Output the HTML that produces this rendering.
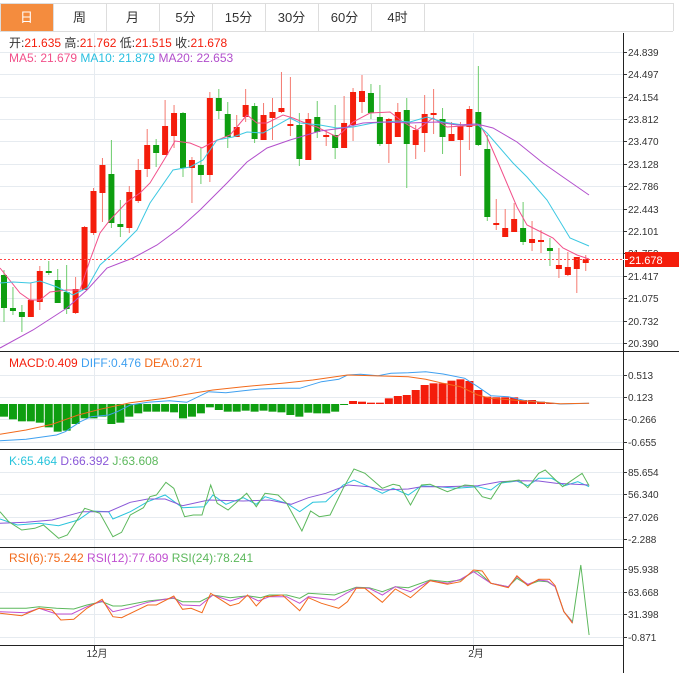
<!DOCTYPE html>
<html><head><meta charset="utf-8">
<style>
html,body{margin:0;padding:0;background:#fff;width:679px;height:673px;overflow:hidden;font-family:"Liberation Sans","Noto Sans CJK SC",sans-serif;}
svg{position:absolute;left:0;top:0}
</style></head><body>
<svg id="s" width="679" height="673" xmlns="http://www.w3.org/2000/svg" font-family="Liberation Sans, Noto Sans CJK SC, sans-serif"></svg>
<script>
var s=document.getElementById('s'),h='';
function L(x1,y1,x2,y2,c,w,extra){h+='<line x1="'+x1+'" y1="'+y1+'" x2="'+x2+'" y2="'+y2+'" stroke="'+c+'" stroke-width="'+(w||1)+'" '+(extra||'')+'/>';}
function R(x,y,w,hh,c){h+='<rect x="'+x+'" y="'+y+'" width="'+w+'" height="'+hh+'" fill="'+c+'"/>';}
function T(x,y,t,c,sz,anc){h+='<text x="'+x+'" y="'+y+'" fill="'+c+'" font-size="'+(sz||12)+'"'+(anc?' text-anchor="'+anc+'"':'')+'>'+t+'</text>';}
function P(pts,c,sx,y0,sy){var d=pts.map(function(p){return (p[0]*sx).toFixed(1)+','+(y0+p[1]*sy).toFixed(1)}).join(' ');h+='<polyline points="'+d+'" fill="none" stroke="'+c+'" stroke-width="1"/>';}
R(0,3,679,28,'#fff');
L(0,3.5,673,3.5,'#ddd');L(0,31.5,673,31.5,'#ddd');
var tabs=['日','周','月','5分','15分','30分','60分','4时'];
for(var i=0;i<8;i++){var x=i*53;if(i==0)R(0,4,53,27,'#f48c3e');L(x+53.5,4,x+53.5,31,'#ddd');T(x+26.5,22,tabs[i],i==0?'#fff':'#333',13,'middle');}
L(673.5,3,673.5,31,'#ddd');L(0.5,3,0.5,31,'#ddd');
var ty=[[52,'24.839'],[74,'24.497'],[97,'24.154'],[119,'23.812'],[141,'23.470'],[164,'23.128'],[186,'22.786'],[209,'22.443'],[231,'22.101'],[253,'21.759'],[276,'21.417'],[298,'21.075'],[321,'20.732'],[343,'20.390']];
ty.forEach(function(t){L(0,t[0]+.5,623,t[0]+.5,'#e6ebf0');L(623,t[0]+.5,627,t[0]+.5,'#333');T(628,t[0]+4,t[1],'#333',10);});
[94,473].forEach(function(x){L(x+.5,33,x+.5,645,'#e6ebf0');});
L(623.5,33,623.5,673,'#222');
[351,449,547,645].forEach(function(y){L(0,y+.5,623,y+.5,'#222');});
L(623,351.5,679,351.5,'#222');
var C=[[275,308,270,322,'g'],[308,311,287,315,'g'],[312,317,305,332,'g'],[300,317,283,317,'r'],[271,302,266,310,'r'],[271,273,261,275,'g'],[280,303,269,303,'g'],[292,309,265,314,'g'],[289,313,277,314,'r'],[227,290,226,290,'r'],[191,233,188,235,'r'],[165,193,158,222,'r'],[174,223,140,228,'g'],[224,227,200,237,'g'],[192,228,186,233,'r'],[170,201,159,203,'r'],[145,169,129,177,'r'],[145,153,139,167,'g'],[126,155,100,155,'r'],[113,136,105,148,'r'],[113,168,112,177,'g'],[160,168,157,203,'r'],[165,175,148,184,'g'],[98,175,92,182,'r'],[98,111,89,119,'g'],[114,137,102,148,'g'],[127,137,115,137,'r'],[105,117,89,122,'r'],[106,139,103,143,'g'],[115,140,103,140,'r'],[112,118,98,140,'r'],[108,112,72,113,'r'],[124,125,77,136,'r'],[125,159,113,166,'g'],[119,160,113,160,'r'],[117,132,101,138,'g'],[135,137,130,146,'r'],[135,148,105,159,'g'],[123,148,96,147,'r'],[92,125,88,141,'r'],[91,102,75,113,'r'],[93,113,84,119,'g'],[117,144,85,146,'g'],[119,144,118,163,'r'],[112,137,103,137,'r'],[110,144,98,188,'g'],[130,145,125,159,'r'],[114,133,95,152,'r'],[113,114,89,134,'r'],[119,137,108,154,'g'],[134,141,122,141,'r'],[126,140,122,176,'r'],[109,127,106,150,'r'],[112,145,66,146,'g'],[149,217,135,221,'g'],[223,225,199,230,'r'],[228,237,209,237,'r'],[219,232,203,232,'r'],[228,242,202,245,'g'],[239,243,221,251,'r'],[240,242,230,253,'r'],[248,251,238,266,'g'],[265,269,248,278,'r'],[267,275,252,276,'r'],[257,269,257,293,'r'],[259,263,255,271,'r']];
C.forEach(function(c,i){var x=4+i*8.95;var col=c[4]=='r'?'#f41d0b':'#0e9e10';var wc=c[4]=='r'?'#f47a70':'#6ccc6c';L(x,c[2],x,c[3],wc);R(x-3,c[0],6,Math.max(c[1]-c[0],2),col);});
var ma5=[[0,268],[20,293],[30,300],[40,300],[50,292],[67,290],[80,290],[90,260],[100,233],[110,220],[127,202],[140,193],[150,183],[167,155],[175,141],[190,143],[202,148],[213,142],[230,135],[247,115],[257,123],[267,123],[283,115],[293,118],[310,125],[317,127],[337,137],[353,122],[370,113],[390,112],[403,122],[417,130],[433,118],[447,127],[463,126],[480,125],[487,137],[500,167],[517,207],[527,225],[543,233],[553,238],[563,248],[577,255],[589,259]];
var ma10=[[0,283],[13,282],[30,283],[40,281],[57,287],[73,295],[87,288],[100,265],[117,250],[137,230],[150,203],[173,170],[190,167],[203,160],[217,140],[233,137],[247,132],[263,133],[290,118],[300,123],[320,125],[337,128],[353,127],[373,123],[397,121],[410,122],[427,117],[443,122],[463,125],[477,124],[487,133],[513,163],[527,177],[547,200],[570,238],[589,246]];
var ma20=[[0,348],[33,330],[67,308],[87,290],[107,268],[133,258],[157,245],[180,228],[200,210],[227,183],[247,162],[267,148],[290,140],[320,131],[343,128],[363,123],[383,122],[410,123],[437,122],[457,125],[477,124],[493,128],[517,142],[543,163],[563,177],[589,195]];
P(ma5,'#f2508a',1,0,1);P(ma10,'#3cc8e2',1,0,1);P(ma20,'#b24fcc',1,0,1);
L(0,259.5,623,259.5,'#f44',1,'stroke-dasharray="2,2"');
R(625,252,54,15,'#f41d0b');L(623,259.5,628,259.5,'#fff');T(629,264,'21.678','#fff',11);
h+='<text x="9" y="47" font-size="12"><tspan fill="#333">开:</tspan><tspan fill="#f41d0b">21.635 </tspan><tspan fill="#333"> 高:</tspan><tspan fill="#f41d0b">21.762 </tspan><tspan fill="#333"> 低:</tspan><tspan fill="#f41d0b">21.515 </tspan><tspan fill="#333"> 收:</tspan><tspan fill="#f41d0b">21.678</tspan></text>';
h+='<text x="9" y="62" font-size="12"><tspan fill="#f2508a">MA5: 21.679 </tspan><tspan fill="#29bfe0"> MA10: 21.879 </tspan><tspan fill="#b24fcc"> MA20: 22.653</tspan></text>';
var sx=1/2.302;
[[375,'0.513'],[397,'0.123'],[419,'-0.266'],[442,'-0.655']].forEach(function(t){L(0,t[0]+.5,623,t[0]+.5,'#e6ebf0');L(623,t[0]+.5,627,t[0]+.5,'#333');T(628,t[0]+4,t[1],'#333',10);});
var mb=[200,208,214,214,218,232,245,242,222,205,205,200,222,218,200,190,185,185,185,187,205,200,190,172,180,185,185,182,185,182,185,187,195,200,188,190,190,185,165,153,155,158,158,145,138,135,120,105,100,100,92,88,93,120,140,142,142,142,150,150,155,160];
var z=404;
mb.forEach(function(Y,i){var x=4+i*8.95;var y=350+Y/3;if(y>z)R(x-4,z,8,y-z,'#0e9e10');else R(x-4,y,8,z-y,'#f41d0b');});
P([[0,272],[60,268],[130,255],[150,245],[185,215],[210,200],[250,195],[270,185],[300,165],[340,157],[390,152],[430,157],[480,125],[520,128],[560,122],[600,117],[650,115],[690,115],[740,95],[780,88],[800,75],[830,73],[870,77],[900,70],[940,68],[980,65],[1020,72],[1070,85],[1100,110],[1130,137],[1170,140],[1210,152],[1250,157],[1290,162],[1356,160]],'#3fa0f0',sx,350,1/3);
P([[0,253],[60,240],[120,223],[180,195],[230,178],[300,158],[380,145],[430,133],[490,120],[560,110],[650,100],[720,90],[800,75],[880,78],[940,80],[980,88],[1020,100],[1060,110],[1100,135],[1130,145],[1180,150],[1230,155],[1290,161],[1356,160]],'#f26a1b',sx,350,1/3);
h+='<text x="9" y="367" font-size="12"><tspan fill="#f41d0b">MACD:0.409 </tspan><tspan fill="#3fa0f0"> DIFF:0.476 </tspan><tspan fill="#f26a1b"> DEA:0.271</tspan></text>';
[[472,'85.654'],[494,'56.340'],[517,'27.026'],[539,'-2.288']].forEach(function(t){L(0,t[0]+.5,623,t[0]+.5,'#e6ebf0');L(623,t[0]+.5,627,t[0]+.5,'#333');T(628,t[0]+4,t[1],'#333',10);});
P([[0,222],[40,240],[90,235],[135,242],[180,225],[210,198],[250,200],[260,222],[300,200],[340,170],[380,150],[420,188],[470,185],[490,150],[520,178],[560,158],[590,178],[610,155],[660,175],[690,200],[720,172],[750,170],[790,120],[815,105],[850,125],[880,145],[905,130],[940,150],[970,122],[1010,125],[1050,130],[1100,125],[1130,135],[1150,115],[1190,108],[1215,122],[1240,100],[1270,100],[1300,122],[1330,110],[1356,125]],'#29c4dc',sx,445,1/3);
P([[0,235],[60,232],[120,225],[190,200],[250,200],[300,172],[340,162],[380,162],[420,182],[480,165],[560,168],[620,165],[670,178],[710,158],[750,145],[800,120],[850,125],[880,135],[940,132],[970,125],[1020,125],[1100,122],[1150,110],[1200,107],[1240,108],[1280,115],[1356,120]],'#8a58d8',sx,445,1/3);
P([[0,200],[20,230],[50,255],[80,250],[100,240],[135,280],[155,270],[195,190],[230,205],[260,275],[280,262],[300,210],[330,188],[345,155],[360,150],[382,112],[400,130],[425,215],[445,210],[465,210],[485,120],[500,175],[525,195],[568,145],[590,185],[610,145],[640,150],[660,175],[695,258],[715,198],[735,215],[760,210],[790,130],[815,72],[840,85],[880,130],[905,118],[920,122],[945,180],[970,120],[990,118],[1030,140],[1070,120],[1090,122],[1110,155],[1130,162],[1155,112],[1195,105],[1215,128],[1240,85],[1255,75],[1295,125],[1340,85],[1356,122]],'#5cb85c',sx,445,1/3);
h+='<text x="9" y="465" font-size="12"><tspan fill="#29c4dc">K:65.464 </tspan><tspan fill="#8a58d8"> D:66.392 </tspan><tspan fill="#5cb85c"> J:63.608</tspan></text>';
[[569,'95.938'],[592,'63.668'],[614,'31.398'],[637,'-0.871']].forEach(function(t){L(0,t[0]+.5,623,t[0]+.5,'#e6ebf0');L(623,t[0]+.5,627,t[0]+.5,'#333');T(628,t[0]+4,t[1],'#333',10);});
P([[0,190],[60,190],[90,185],[130,190],[170,192],[200,180],[235,170],[260,183],[280,183],[340,168],[400,160],[420,170],[460,170],[490,150],[530,158],[570,152],[600,158],[620,150],[660,150],[690,160],[710,145],[770,150],[820,127],[850,128],[880,140],[910,125],[940,128],[990,105],[1030,110],[1060,105],[1090,80],[1100,80],[1130,115],[1170,125],[1190,100],[1215,120],[1240,108],[1260,110],[1278,125],[1298,200],[1318,230],[1337,60],[1356,270]],'#5cb85c',sx,545,1/3);
P([[0,200],[60,203],[90,190],[130,207],[165,207],[200,185],[235,168],[260,200],[300,188],[340,172],[400,158],[420,180],[460,182],[490,150],[530,168],[570,152],[595,168],[620,155],[660,155],[690,175],[710,155],[770,165],[820,128],[850,130],[880,150],[910,125],[945,140],[990,107],[1030,115],[1060,103],[1090,80],[1130,115],[1170,125],[1190,95],[1215,118],[1240,105],[1260,108],[1278,125],[1298,200],[1318,232]],'#c050d0',sx,545,1/3);
P([[0,205],[50,212],[90,190],[120,195],[140,225],[170,223],[200,190],[235,163],[260,215],[280,218],[340,180],[360,180],[400,153],[420,193],[440,190],[465,203],[485,145],[530,182],[550,175],[570,150],[590,183],[610,155],[650,150],[690,197],[710,158],[740,175],[780,190],[800,170],[820,130],[840,130],[880,172],[910,132],[945,158],[990,107],[1030,118],[1060,110],[1090,75],[1110,78],[1130,115],[1170,128],[1190,92],[1215,122],[1240,103],[1265,103],[1278,122],[1298,200],[1318,235]],'#f26a1b',sx,545,1/3);
h+='<text x="9" y="562" font-size="12"><tspan fill="#f26a1b">RSI(6):75.242 </tspan><tspan fill="#c050d0"> RSI(12):77.609 </tspan><tspan fill="#5cb85c"> RSI(24):78.241</tspan></text>';
L(94.5,645,94.5,650,'#333');L(473.5,645,473.5,650,'#333');
T(97,657,'12月','#333',10,'middle');T(476,657,'2月','#333',10,'middle');
s.innerHTML=h;
</script>
</body></html>
